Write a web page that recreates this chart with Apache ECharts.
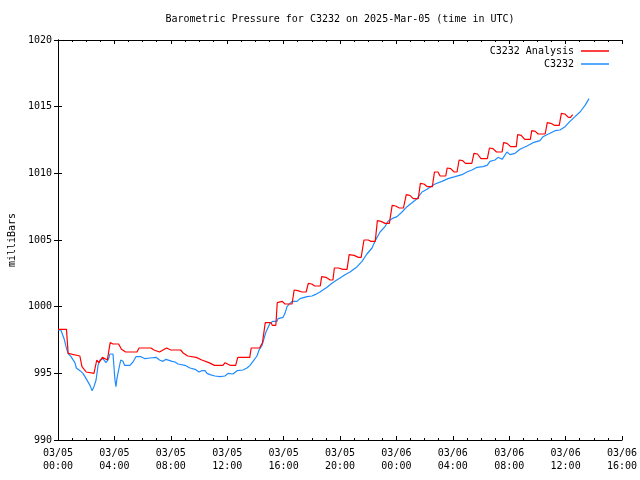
<!DOCTYPE html>
<html>
<head>
<meta charset="utf-8">
<script src="https://cdn.jsdelivr.net/npm/echarts@6/dist/echarts.min.js"></script>
<style>html,body{margin:0;padding:0;background:#fff}#c{width:640px;height:480px}</style>
</head>
<body>
<div id="c"></div>
<script>
// hours since 2025-03-05 00:00 UTC
var analysisHours = [0,0.6,0.72,1.55,1.7,2.0,2.55,2.75,2.9,3.15,3.5,3.7,3.9,4.3,4.5,4.8,5.6,5.75,6.6,6.8,7.2,7.7,8.0,8.7,8.9,9.2,9.8,10.2,10.7,11.1,11.7,11.85,12.2,12.6,12.75,13.6,13.7,14.3,14.5,14.7,15.1,15.2,15.45,15.55,15.9,16.1,16.6,16.75,17.0,17.3,17.6,17.75,18.0,18.2,18.6,18.7,19.0,19.3,19.5,19.6,19.9,20.2,20.5,20.65,21.0,21.3,21.5,21.7,22.0,22.2,22.5,22.65,22.9,23.2,23.5,23.7,23.95,24.2,24.5,24.7,24.95,25.2,25.55,25.7,25.95,26.2,26.55,26.7,26.95,27.1,27.5,27.6,27.85,28.1,28.3,28.45,28.7,28.9,29.35,29.5,29.75,30.0,30.45,30.6,30.85,31.1,31.5,31.6,31.85,32.1,32.5,32.6,32.85,33.1,33.5,33.6,33.85,34.05,34.55,34.7,34.95,35.2,35.55,35.7,35.95,36.2,36.35,36.5];
var analysisValues = [998.3,998.3,996.5,996.3,995.5,995.1,995.0,996.0,995.8,996.2,996.0,997.3,997.2,997.2,996.8,996.6,996.6,996.9,996.9,996.75,996.6,996.9,996.75,996.75,996.5,996.3,996.2,996.0,995.8,995.6,995.6,995.8,995.6,995.6,996.2,996.2,996.9,996.9,997.3,998.8,998.8,998.6,998.6,1000.3,1000.4,1000.2,1000.2,1001.25,1001.2,1001.1,1001.1,1001.75,1001.7,1001.55,1001.55,1002.25,1002.2,1002.0,1002.0,1002.9,1002.9,1002.8,1002.8,1003.9,1003.85,1003.7,1003.7,1005.0,1005.0,1004.9,1004.9,1006.45,1006.4,1006.25,1006.25,1007.6,1007.55,1007.4,1007.4,1008.4,1008.35,1008.1,1008.1,1009.25,1009.2,1009.0,1009.0,1010.1,1010.1,1009.8,1009.8,1010.4,1010.35,1010.1,1010.1,1011.0,1010.95,1010.75,1010.75,1011.5,1011.45,1011.1,1011.1,1011.9,1011.85,1011.6,1011.6,1012.3,1012.25,1012.0,1012.0,1012.9,1012.85,1012.55,1012.55,1013.2,1013.15,1012.95,1012.95,1013.8,1013.75,1013.6,1013.6,1014.5,1014.45,1014.2,1014.2,1014.4];

var stationHours = [0,0.2,0.43,0.57,0.71,0.92,1.2,1.3,1.56,1.77,1.91,2.0,2.27,2.41,2.55,2.7,2.84,2.98,3.09,3.19,3.3,3.4,3.55,3.69,3.9,4.04,4.11,4.18,4.33,4.45,4.61,4.72,5.1,5.32,5.53,5.89,6.17,6.52,6.95,7.2,7.45,7.66,7.8,8.09,8.3,8.51,9.0,9.36,9.72,9.84,10.0,10.19,10.43,10.57,10.78,11.13,11.49,11.84,12.06,12.2,12.41,12.7,13.12,13.4,13.62,13.83,14.11,14.26,14.47,14.61,14.75,14.82,15.04,15.25,15.53,15.6,15.96,16.1,16.24,16.45,16.6,16.95,17.16,17.66,18.01,18.23,18.58,18.79,19.08,19.43,19.77,20.0,20.35,20.71,21.21,21.56,21.91,22.27,22.48,22.84,23.19,23.4,23.69,24.04,24.4,24.75,25.11,25.46,25.82,26.17,26.52,26.74,27.23,27.66,27.8,28.16,28.65,29.0,29.36,29.72,30.14,30.43,30.64,30.99,31.21,31.5,31.84,32.06,32.41,32.77,33.26,33.69,34.18,34.4,34.89,35.25,35.6,35.96,36.31,36.67,37.02,37.38,37.66];
var stationValues = [998.25,998.25,997.6,997.0,996.5,996.25,995.8,995.4,995.2,995.0,994.75,994.8,994.1,993.7,994.0,994.5,995.6,996.0,996.15,996.1,996.0,995.8,996.0,996.45,996.45,994.5,994.0,994.6,995.4,996.0,995.9,995.6,995.6,995.85,996.25,996.25,996.1,996.15,996.2,996.0,995.9,996.05,996.1,995.9,995.85,995.7,995.6,995.4,995.3,995.4,995.1,995.2,995.2,995.0,994.9,994.8,994.75,994.8,995.0,995.1,994.95,995.2,995.25,995.4,995.6,995.9,996.3,996.75,997.1,997.6,998.1,998.25,998.75,998.9,998.9,999.1,999.2,999.5,1000.0,1000.25,1000.4,1000.4,1000.6,1000.75,1000.8,1000.9,1001.1,1001.25,1001.45,1001.75,1002.0,1002.15,1002.4,1002.6,1003.0,1003.4,1003.95,1004.4,1004.9,1005.6,1006.0,1006.4,1006.6,1006.75,1007.1,1007.5,1007.8,1008.1,1008.6,1008.8,1009.05,1009.2,1009.4,1009.6,1009.45,1009.75,1009.9,1010.1,1010.25,1010.45,1010.5,1010.6,1010.9,1011.0,1011.2,1011.05,1011.6,1011.4,1011.5,1011.8,1012.05,1012.3,1012.45,1012.75,1013.0,1013.2,1013.25,1013.5,1013.9,1014.25,1014.6,1015.1,1015.6];

var seriesNames = ['C3232 Analysis', 'C3232'];
var seriesColors = ['#ff0000', '#1e8cff'];
var xMin = 0, xMax = 40, xStep = 4;
var yMin = 990, yMax = 1020, yStep = 5;
var dayLabels = ['03/05', '03/06'];

function pairs(xs, ys) { return xs.map(function (x, i) { return [x, ys[i]]; }); }
function fmtHour(h) {
  var d = Math.floor(h / 24), hh = h % 24;
  return dayLabels[d] + '\n' + (hh < 10 ? '0' : '') + hh + ':00';
}
function fmtY(v) { return String(v); }
var mono = '"DejaVu Sans Mono", "Liberation Mono", monospace';
var chart = echarts.init(document.getElementById('c'), null, {renderer: 'canvas'});
var axisLine = {show: true, lineStyle: {color: '#000', width: 1}};
var majorTick = {show: true, inside: true, length: 4, lineStyle: {color: '#000'}};
var minorTick = {show: true, splitNumber: 4, length: 2, lineStyle: {color: '#000'}};
chart.setOption({
  animation: false,
  backgroundColor: '#fff',
  title: {
    text: 'Barometric Pressure for C3232 on 2025-Mar-05 (time in UTC)',
    left: 340, textAlign: 'center', top: 14, padding: 0,
    textStyle: {fontFamily: mono, fontSize: 10, fontWeight: 'normal', color: '#000'}
  },
  legend: {
    orient: 'vertical', right: 31, top: 44.5, align: 'right', padding: 0,
    itemWidth: 28, itemHeight: 1.5, itemGap: 0,
    textStyle: {fontFamily: mono, fontSize: 10, color: '#000', lineHeight: 13, padding: [0, 2, 0, 0]},
    data: [{name: seriesNames[0], icon: 'rect'}, {name: seriesNames[1], icon: 'rect'}]
  },
  grid: {left: 58, right: 18, top: 40, bottom: 40, containLabel: false, outerBoundsMode: 'none'},
  xAxis: [{
    type: 'value', min: xMin, max: xMax, interval: xStep,
    axisLine: axisLine, axisTick: majorTick, minorTick: minorTick,
    splitLine: {show: false},
    axisLabel: {margin: 7, fontFamily: mono, fontSize: 10, color: '#000', lineHeight: 13, formatter: fmtHour, hideOverlap: false}
  }, {
    type: 'value', position: 'top', min: xMin, max: xMax, interval: xStep,
    axisLine: axisLine, axisTick: majorTick, minorTick: minorTick,
    splitLine: {show: false}, axisLabel: {show: false}
  }],
  yAxis: [{
    type: 'value', min: yMin, max: yMax, interval: yStep,
    name: 'milliBars', nameLocation: 'middle', nameGap: 41, nameRotate: 90,
    nameTextStyle: {fontFamily: mono, fontSize: 10, color: '#000'},
    axisLine: axisLine, axisTick: majorTick,
    splitLine: {show: false},
    axisLabel: {margin: 6, fontFamily: mono, fontSize: 10, color: '#000', formatter: fmtY}
  }, {
    type: 'value', position: 'right', min: yMin, max: yMax, interval: yStep,
    axisLine: axisLine, axisTick: majorTick,
    splitLine: {show: false}, axisLabel: {show: false}
  }],
  series: [{
    name: seriesNames[0], type: 'line', xAxisIndex: 0, yAxisIndex: 0,
    showSymbol: false, symbol: 'none', color: seriesColors[0],
    lineStyle: {width: 1.2, color: seriesColors[0]},
    data: pairs(analysisHours, analysisValues), z: 3
  }, {
    name: seriesNames[1], type: 'line', xAxisIndex: 0, yAxisIndex: 0,
    showSymbol: false, symbol: 'none', color: seriesColors[1],
    lineStyle: {width: 1.2, color: seriesColors[1]},
    data: pairs(stationHours, stationValues), z: 2
  }]
});
</script>
</body>
</html>
